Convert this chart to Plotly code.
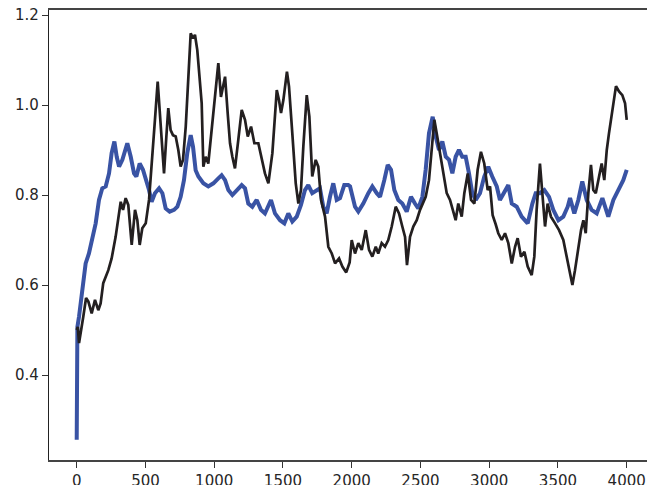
import plotly.graph_objects as go

black_x = [0, 8, 17, 30, 48, 68, 85, 109, 133, 157, 174, 193, 230, 254, 265, 283,
           320, 337, 356, 375, 400, 424, 441, 458, 477, 502, 526, 550, 569, 589, 606,
           623, 635, 652, 666, 683, 700, 720, 739, 756, 773, 793, 812, 829, 846, 860,
           877, 895, 909, 921, 938, 957, 977, 1001, 1030, 1049, 1079, 1098, 1115,
           1132, 1151, 1175, 1200, 1224, 1244, 1268, 1292, 1321, 1345, 1369, 1394,
           1423, 1455, 1471, 1486, 1503, 1529, 1544, 1568, 1593, 1612, 1631, 1648,
           1673, 1692, 1713, 1738, 1757, 1777, 1806, 1830, 1855, 1879, 1908, 1932,
           1960, 1985, 2000, 2024, 2048, 2073, 2102, 2126, 2150, 2175, 2193, 2218,
           2242, 2266, 2291, 2320, 2344, 2368, 2388, 2402, 2424, 2448, 2473, 2497,
           2514, 2538, 2562, 2582, 2601, 2618, 2642, 2666, 2691, 2715, 2739, 2756,
           2775, 2800, 2819, 2844, 2868, 2892, 2916, 2940, 2964, 2989, 3006, 3025,
           3047, 3066, 3091, 3115, 3139, 3164, 3188, 3207, 3231, 3256, 3280, 3309,
           3328, 3345, 3369, 3386, 3406, 3425, 3449, 3479, 3508, 3539, 3564, 3588,
           3605, 3624, 3648, 3668, 3685, 3702, 3721, 3740, 3757, 3775, 3799, 3818,
           3837, 3855, 3871, 3891, 3910, 3922, 3944, 3968, 3988, 4000]
black_y = [0.500, 0.507, 0.471, 0.500, 0.530, 0.571, 0.563, 0.537, 0.567, 0.544, 0.559,
           0.604, 0.633, 0.659, 0.675, 0.707, 0.785, 0.767, 0.793, 0.778, 0.689, 0.767,
           0.744, 0.689, 0.726, 0.737, 0.789, 0.878, 0.967, 1.052, 0.974, 0.878, 0.848,
           0.930, 0.993, 0.944, 0.933, 0.930, 0.900, 0.863, 0.878, 0.952, 1.048, 1.159,
           1.148, 1.156, 1.122, 1.048, 1.004, 0.863, 0.885, 0.870, 0.930, 1.011, 1.093,
           1.018, 1.063, 0.982, 0.915, 0.885, 0.859, 0.922, 0.989, 0.967, 0.930, 0.952,
           0.915, 0.915, 0.878, 0.848, 0.826, 0.893, 1.033, 1.011, 0.982, 1.011, 1.074,
           1.041, 0.937, 0.826, 0.781, 0.811, 0.907, 1.022, 0.974, 0.841, 0.878, 0.863,
           0.789, 0.752, 0.685, 0.670, 0.648, 0.659, 0.641, 0.628, 0.650, 0.700, 0.670,
           0.693, 0.678, 0.722, 0.678, 0.663, 0.685, 0.670, 0.693, 0.685, 0.700, 0.730,
           0.774, 0.759, 0.730, 0.707, 0.644, 0.707, 0.730, 0.744, 0.767, 0.781, 0.796,
           0.833, 0.907, 0.967, 0.937, 0.893, 0.841, 0.804, 0.789, 0.759, 0.744, 0.781,
           0.752, 0.804, 0.848, 0.789, 0.781, 0.856, 0.896, 0.870, 0.811, 0.819, 0.755,
           0.735, 0.715, 0.700, 0.715, 0.693, 0.648, 0.685, 0.704, 0.663, 0.674, 0.641,
           0.622, 0.663, 0.767, 0.870, 0.804, 0.730, 0.781, 0.752, 0.737, 0.722, 0.700,
           0.663, 0.626, 0.600, 0.633, 0.685, 0.722, 0.744, 0.715, 0.804, 0.867, 0.811,
           0.804, 0.841, 0.870, 0.833, 0.900, 0.937, 0.982, 1.018, 1.042, 1.030, 1.022,
           1.004, 0.967]

blue_x = [0, 1, 5, 17, 41, 65, 89, 114, 138, 162, 186, 211, 235, 254, 274, 291, 308,
          332, 351, 368, 393, 417, 434, 458, 482, 506, 526, 545, 569, 599, 623, 647,
          676, 708, 732, 756, 780, 804, 829, 846, 865, 885, 921, 957, 994, 1030, 1054,
          1079, 1103, 1132, 1164, 1200, 1224, 1248, 1277, 1309, 1340, 1369, 1413, 1442,
          1479, 1510, 1539, 1568, 1600, 1631, 1660, 1684, 1713, 1745, 1769, 1793, 1818,
          1842, 1866, 1891, 1915, 1946, 1975, 1988, 2024, 2048, 2084, 2121, 2150, 2182,
          2206, 2237, 2262, 2286, 2310, 2339, 2368, 2400, 2431, 2460, 2484, 2514, 2538,
          2562, 2589, 2611, 2635, 2659, 2684, 2708, 2732, 2756, 2780, 2804, 2829, 2853,
          2877, 2902, 2933, 2964, 2993, 3022, 3055, 3078, 3115, 3139, 3164, 3200, 3236,
          3280, 3314, 3338, 3369, 3401, 3435, 3466, 3503, 3539, 3571, 3588, 3619, 3648,
          3677, 3709, 3745, 3782, 3823, 3866, 3903, 3939, 3975, 4000]
blue_y = [0.256, 0.480, 0.507, 0.530, 0.596, 0.648, 0.670, 0.700, 0.737, 0.789, 0.815,
          0.819, 0.848, 0.893, 0.919, 0.885, 0.863, 0.878, 0.900, 0.915, 0.885, 0.848,
          0.841, 0.870, 0.856, 0.833, 0.811, 0.785, 0.804, 0.815, 0.804, 0.770, 0.763,
          0.767, 0.774, 0.796, 0.833, 0.893, 0.933, 0.907, 0.855, 0.841, 0.826, 0.819,
          0.826, 0.837, 0.844, 0.833, 0.811, 0.800, 0.811, 0.822, 0.815, 0.781, 0.774,
          0.789, 0.767, 0.759, 0.789, 0.759, 0.744, 0.737, 0.759, 0.741, 0.752, 0.778,
          0.811, 0.822, 0.804, 0.811, 0.815, 0.774, 0.759, 0.796, 0.826, 0.789, 0.793,
          0.822, 0.822, 0.819, 0.774, 0.763, 0.781, 0.804, 0.819, 0.804, 0.796, 0.833,
          0.867, 0.856, 0.811, 0.789, 0.781, 0.763, 0.796, 0.781, 0.770, 0.796, 0.856,
          0.937, 0.974, 0.930, 0.900, 0.919, 0.885, 0.878, 0.848, 0.885, 0.900, 0.885,
          0.885, 0.848, 0.804, 0.789, 0.804, 0.841, 0.863, 0.841, 0.819, 0.789, 0.811,
          0.822, 0.781, 0.774, 0.752, 0.737, 0.781, 0.804, 0.804, 0.811, 0.796, 0.767,
          0.744, 0.752, 0.774, 0.793, 0.759, 0.789, 0.830, 0.789, 0.767, 0.759, 0.793,
          0.752, 0.789, 0.811, 0.833, 0.856]

x_ticks = [0, 500, 1000, 1500, 2000, 2500, 3000, 3500, 4000]
y_ticks = [0.4, 0.6, 0.8, 1.0, 1.2]

fig = go.Figure()
fig.add_trace(go.Scatter(x=blue_x, y=blue_y, mode="lines",
                         line=dict(color="#3953a4", width=4), showlegend=False))
fig.add_trace(go.Scatter(x=black_x, y=black_y, mode="lines",
                         line=dict(color="#231f20", width=2.7), showlegend=False))

axis_font = dict(family="DejaVu Sans", size=15, color="#262626")
fig.update_layout(
    width=647, height=485,
    margin=dict(l=49, r=0, t=10, b=25, autoexpand=False),
    paper_bgcolor="white", plot_bgcolor="white",
    font=axis_font,
    xaxis=dict(range=[-201.5, 4147.6], tickvals=x_ticks,
               ticktext=[str(v) for v in x_ticks], automargin=False,
               showgrid=False, zeroline=False, showline=True, mirror=True,
               linecolor="#444444", linewidth=1.5, ticks="outside", ticklen=6,
               tickwidth=1.25, tickcolor="#333333", tickfont=axis_font),
    yaxis=dict(range=[0.2111, 1.2111], tickvals=y_ticks,
               ticktext=["%.1f" % v for v in y_ticks], automargin=False,
               showgrid=False, zeroline=False, showline=True, mirror=False,
               linecolor="#222222", linewidth=1.25, ticks="outside", ticklen=6,
               tickwidth=1.25, tickcolor="#333333", tickfont=axis_font),
)

page_fix = ("document.documentElement.style.margin='0';"
            "document.body.style.margin='0';"
            "document.documentElement.style.overflow='hidden';"
            "document.body.style.overflow='hidden';")
fig.write_html("out.html", post_script=page_fix, config={"displayModeBar": False})
